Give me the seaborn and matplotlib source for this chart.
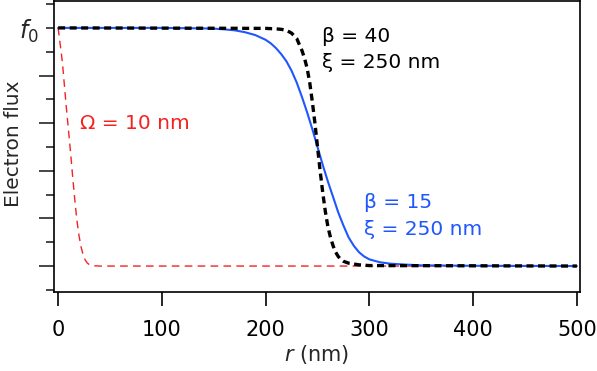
import numpy as np
import pandas as pd
import matplotlib
matplotlib.use("Agg")
import matplotlib.pyplot as plt
import seaborn as sns

# --- values (r in nm, flux in units of f0) ---
r_beta15 = [0, 100, 140, 150, 160, 170, 180, 190, 200, 205, 210, 215, 220, 225, 230,
            235, 240, 245, 250, 255, 260, 265, 270, 275, 280, 285, 290, 295, 300,
            310, 320, 335, 350, 400, 500]
f_beta15 = [1.0, 1.0, 0.998, 0.997, 0.994, 0.99, 0.982, 0.97, 0.95, 0.935, 0.915, 0.89,
            0.86, 0.82, 0.77, 0.71, 0.645, 0.575, 0.50, 0.425, 0.355, 0.29, 0.225,
            0.17, 0.12, 0.085, 0.058, 0.04, 0.028, 0.016, 0.01, 0.006, 0.003,
            0.001, 0.0]

r_beta40 = [0, 200, 210, 215, 220, 225, 230, 235, 237.5, 240, 242.5, 245, 247.5, 250,
            252.5, 255, 257.5, 260, 262.5, 265, 267.5, 270, 272.5, 275, 280, 290, 300, 500]
f_beta40 = [1.0, 0.998, 0.996, 0.994, 0.99, 0.978, 0.955, 0.905, 0.872, 0.83, 0.77, 0.69,
            0.60, 0.50, 0.40, 0.31, 0.23, 0.165, 0.12, 0.085, 0.058, 0.04, 0.028,
            0.02, 0.012, 0.005, 0.002, 0.0]

r_omega = [0, 2, 4, 6, 8, 10, 12, 14, 16, 18, 20, 22, 24, 26, 28, 30, 32, 35, 40, 500]
f_omega = [1.0, 0.93, 0.86, 0.76, 0.66, 0.57, 0.475, 0.375, 0.28, 0.195, 0.13, 0.082,
           0.048, 0.026, 0.013, 0.006, 0.003, 0.001, 0.0, 0.0]

labels_beta40 = ["\u03b2 = 40", "\u03be = 250 nm"]
labels_beta15 = ["\u03b2 = 15", "\u03be = 250 nm"]
label_omega = "\u03a9 = 10 nm"

BLUE = "#1f56ff"
RED = "#f42222"

sns.set_style("ticks")
plt.rcParams["font.family"] = ["DejaVu Sans"]
plt.rcParams["mathtext.fontset"] = "dejavusans"

fig = plt.figure(figsize=(5.97, 3.71), dpi=100)
ax = fig.add_axes([54 / 597, 1 - 292 / 371, 526 / 597, 291 / 371])

# red under blue under black, as in the reference
sns.lineplot(x=r_omega, y=f_omega, ax=ax, color=RED, lw=1.0,
             linestyle=(0, (5.5, 3.8)))
sns.lineplot(x=r_beta15, y=f_beta15, ax=ax, color=BLUE, lw=1.5)
sns.lineplot(x=r_beta40, y=f_beta40, ax=ax, color="black", lw=2.4,
             linestyle=(0, (2.1, 1.35)))

ax.set_xlim(-4, 503)
ax.set_ylim(-0.109, 1.113)

ax.set_xticks([0, 100, 200, 300, 400, 500])
ax.set_yticks([0, 0.2, 0.4, 0.6, 0.8])
ax.set_yticklabels([])
minor_y = [-0.1, 0.1, 0.3, 0.5, 0.7, 0.9, 1.0, 1.1]
ax.set_yticks(minor_y, minor=True)
ax.set_yticklabels(["$f_0$" if v == 1.0 else "" for v in minor_y], minor=True)

for s in ax.spines.values():
    s.set_linewidth(1.2)
    s.set_color("black")
ax.tick_params(axis="x", direction="out", length=10, width=1.2, pad=10,
               labelsize=15, colors="black")
ax.tick_params(axis="y", which="major", direction="out", length=10.8, width=1.2)
ax.tick_params(axis="y", which="minor", direction="out", length=5.8, width=1.2,
               pad=5, labelsize=17)

ax.set_xlabel("$r$ (nm)", fontsize=15, labelpad=2)
ax.set_ylabel("Electron flux", fontsize=14.5)
ax.yaxis.set_label_coords(-0.058, 0.51)

ax.text(254.5, 0.962, labels_beta40[0], fontsize=14.5, va="center", color="black")
ax.text(254.5, 0.855, labels_beta40[1], fontsize=14.5, va="center", color="black")
ax.text(294.5, 0.265, labels_beta15[0], fontsize=14.5, va="center", color=BLUE)
ax.text(294.5, 0.155, labels_beta15[1], fontsize=14.5, va="center", color=BLUE)
ax.text(21, 0.597, label_omega, fontsize=14.5, va="center", color=RED)

fig.savefig("out.png", dpi=100)
